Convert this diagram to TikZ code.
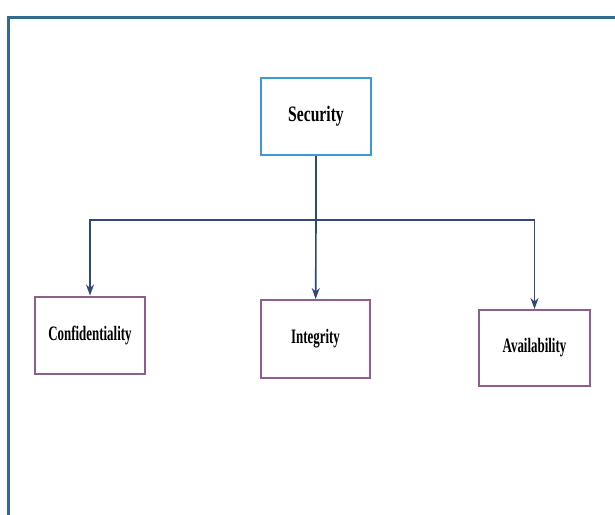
\documentclass[tikz,border=0pt]{standalone}
\usepackage{fontspec}
\usetikzlibrary{arrows.meta}
\newfontfamily\boxfont[FakeStretch=0.63,BoldFont={Liberation Serif Bold}]{Liberation Serif}
\newfontfamily\topfont[FakeStretch=0.71,BoldFont={Liberation Serif Bold}]{Liberation Serif}
\definecolor{FrameBlue}{HTML}{336A8E}
\definecolor{TopBlue}{HTML}{3C9BD2}
\definecolor{LeafPurple}{HTML}{8E5E8E}
\definecolor{LinkNavy}{HTML}{2F4877}

\begin{document}
\begin{tikzpicture}[x=1pt,y=-1pt,
      topbox/.style={draw=TopBlue,line width=2pt,minimum width=110pt,minimum height=77pt,
        font=\topfont\bfseries\fontsize{22}{25}\selectfont},
      leafbox/.style={draw=LeafPurple,line width=2pt,minimum width=110pt,minimum height=77pt,
        font=\boxfont\bfseries\fontsize{20.5}{23}\selectfont},
      link/.style={LinkNavy,line width=1.6pt},
      arr/.style={-{Stealth[length=11pt,width=8pt]},LinkNavy,line width=1.6pt}]
    \useasboundingbox (0,0) rectangle (615,514);
    % outer frame, cut off at right and bottom
    \draw[FrameBlue,line width=3pt] (8,515) -- (8,17) -- (616,17);
    \node[topbox] (sec) at (316,116.5) {Security};
    \node[leafbox] (conf) at (90,335) {Confidentiality};
    \node[leafbox,minimum width=109pt,minimum height=78pt] (integ) at (315.5,339) {Integrity};
    \node[leafbox,minimum width=111pt,minimum height=76pt] (avail) at (534.5,348) {Availability};
    \coordinate (bar) at (316,220);
    \draw[link] (sec) -- (bar);
    \draw[arr] (bar) -| (conf);
    \draw[arr] (bar) -- (integ);
    \draw[arr] (bar) -| (avail);
  \end{tikzpicture}
\end{document}
